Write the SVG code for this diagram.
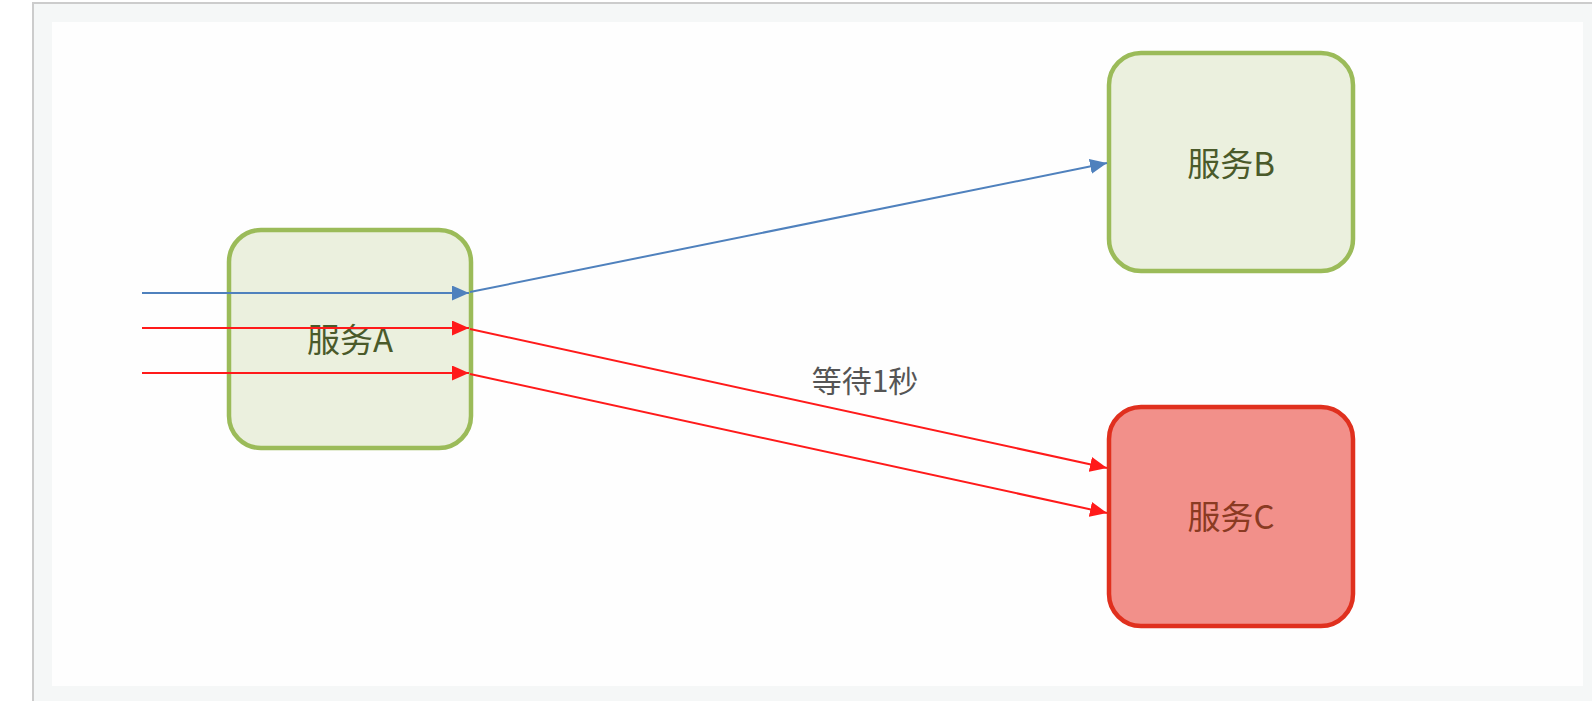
<svg xmlns="http://www.w3.org/2000/svg" width="1592" height="701" viewBox="0 0 1592 701">
<style>
.frame{fill:#f5f7f7;stroke:#cccccc;stroke-width:2}
.canvas{fill:#fefefe}
.ok{fill:#ebf0de;stroke:#9bbb59;stroke-width:4.5}
.bad{fill:#f2908a;stroke:#e0301e;stroke-width:4.5}
.t{font-family:"Noto Sans CJK SC","Noto Sans",sans-serif;text-anchor:middle;dominant-baseline:central}
.n{font-size:33px}
.tok{fill:#4a5a2a}
.tbad{fill:#8a3a22}
.lbl{fill:#555555;font-size:30px}
.blue{stroke:#4f81bd;stroke-width:2;fill:none}
.red{stroke:#ff1a1a;stroke-width:2;fill:none}
</style>
<defs>
<marker id="ab" viewBox="0 0 10 10" refX="10" refY="5" markerWidth="8.5" markerHeight="7.5" markerUnits="strokeWidth" orient="auto" preserveAspectRatio="none"><path d="M0,0L10,5L0,10z" fill="#4f81bd"/></marker>
<marker id="ar" viewBox="0 0 10 10" refX="10" refY="5" markerWidth="8.5" markerHeight="7.5" markerUnits="strokeWidth" orient="auto" preserveAspectRatio="none"><path d="M0,0L10,5L0,10z" fill="#ff1a1a"/></marker>
</defs>
<rect class="frame" x="33" y="3" width="1580" height="720"/>
<rect class="canvas" x="52" y="22" width="1531" height="664"/>
<g id="nodeA">
<rect class="ok" x="229" y="230" width="242" height="218" rx="32"/>
<text class="t n tok" x="350" y="338">服务A</text>
</g>
<g id="nodeB">
<rect class="ok" x="1109" y="53" width="244" height="218" rx="32"/>
<text class="t n tok" x="1231" y="162">服务B</text>
</g>
<g id="nodeC">
<rect class="bad" x="1109" y="407" width="244" height="219" rx="32"/>
<text class="t n tbad" x="1231" y="515">服务C</text>
</g>
<g id="connectors">
<line class="blue" x1="142" y1="293" x2="469" y2="293" marker-end="url(#ab)"/>
<line class="red" x1="142" y1="328" x2="469" y2="328" marker-end="url(#ar)"/>
<line class="red" x1="142" y1="373" x2="469" y2="373" marker-end="url(#ar)"/>
<line class="blue" x1="470" y1="292" x2="1107" y2="163" marker-end="url(#ab)"/>
<line class="red" x1="470" y1="329" x2="1107" y2="468" marker-end="url(#ar)"/>
<line class="red" x1="470" y1="374" x2="1107" y2="513" marker-end="url(#ar)"/>
<text class="t lbl" x="865" y="379">等待1秒</text>
</g>
</svg>
